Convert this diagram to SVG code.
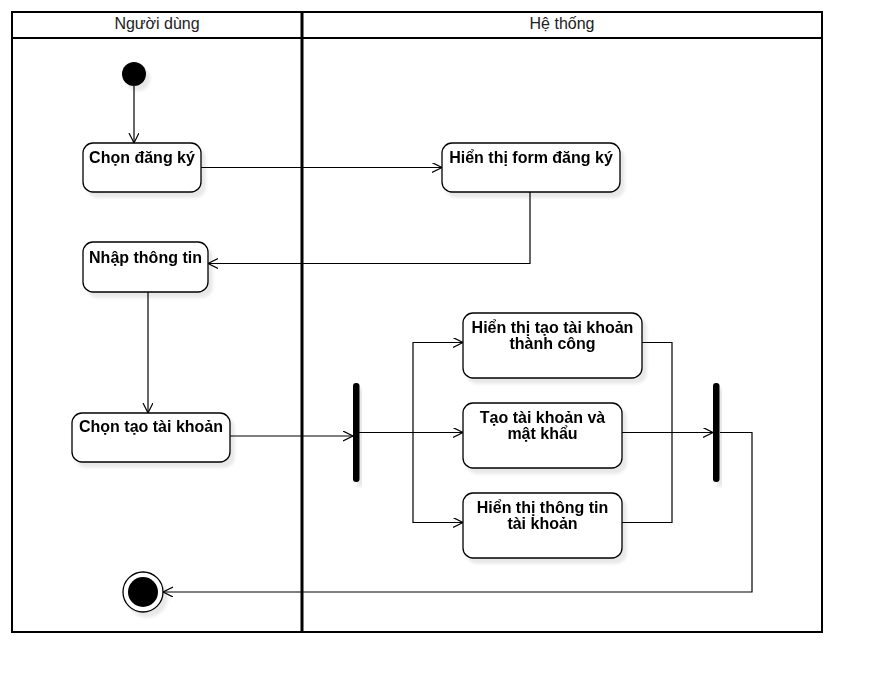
<svg xmlns="http://www.w3.org/2000/svg" width="873" height="683" viewBox="0 0 873 683">
<style>
.lane{fill:none;stroke:#000;stroke-width:2}
.hdr{font-family:"Liberation Sans",Arial,sans-serif;font-size:16px;fill:#222;text-anchor:middle}
.act{fill:#fff;stroke:#000;stroke-width:1.3}
.lbl{font-family:"Liberation Sans",Arial,sans-serif;font-size:16px;font-weight:bold;fill:#000;text-anchor:middle}
.edge{fill:none;stroke:#000;stroke-width:1.2}
.arr{marker-end:url(#open)}
</style>
<defs>
<marker id="open" markerUnits="userSpaceOnUse" markerWidth="12" markerHeight="12" refX="10" refY="5" orient="auto" viewBox="0 0 12 12">
<path d="M0,0 L10,5 L0,10" fill="none" stroke="#000" stroke-width="1.2"/>
</marker>
<filter id="sh" x="-20%" y="-20%" width="150%" height="150%">
<feGaussianBlur in="SourceAlpha" stdDeviation="1.5"/>
<feOffset dx="4" dy="5" result="b"/>
<feFlood flood-color="#000" flood-opacity="0.09"/>
<feComposite in2="b" operator="in"/>
<feMerge><feMergeNode/><feMergeNode in="SourceGraphic"/></feMerge>
</filter>
</defs>
<rect width="873" height="683" fill="#fff"/>
<g id="pool">
<rect class="lane" x="12" y="12" width="810" height="620"/>
<line class="lane" x1="12" y1="38" x2="822" y2="38"/>
<line x1="302" y1="12" x2="302" y2="632" stroke="#000" stroke-width="3"/>
<text class="hdr" x="157" y="29">Người dùng</text>
<text class="hdr" x="562" y="29">Hệ thống</text>
</g>
<g id="connectors">
<path class="edge arr" d="M134 86 V143"/>
<path class="edge arr" d="M201 167.5 H442"/>
<path class="edge arr" d="M530 192 V263.5 H208"/>
<path class="edge arr" d="M148 292 V413"/>
<path class="edge arr" d="M230 436 H353"/>
<path class="edge arr" d="M359 432.5 H463"/>
<path class="edge arr" d="M413 432.5 V342.5 H463"/>
<path class="edge arr" d="M413 432.5 V522.5 H463"/>
<path class="edge" d="M642 342.5 H672 V522.5 H622"/>
<path class="edge arr" d="M622 432.5 H713"/>
<path class="edge arr" d="M720 432.5 H752 V592 H163"/>
</g>
<g id="start" filter="url(#sh)">
<circle cx="134" cy="74" r="12" fill="#000"/>
</g>
<g id="chon-dang-ky" filter="url(#sh)">
<rect class="act" x="83" y="143" width="118" height="49" rx="10"/>
<text class="lbl" x="142" y="163">Chọn đăng ký</text>
</g>
<g id="hien-thi-form" filter="url(#sh)">
<rect class="act" x="442" y="143" width="178" height="49" rx="10"/>
<text class="lbl" x="531" y="163">Hiển thị form đăng ký</text>
</g>
<g id="nhap-thong-tin" filter="url(#sh)">
<rect class="act" x="83" y="242" width="125" height="50" rx="10"/>
<text class="lbl" x="145.5" y="263">Nhập thông tin</text>
</g>
<g id="chon-tao-tai-khoan" filter="url(#sh)">
<rect class="act" x="72" y="413" width="158" height="49" rx="10"/>
<text class="lbl" x="151" y="432">Chọn tạo tài khoản</text>
</g>
<g id="fork" filter="url(#sh)">
<rect x="353" y="383" width="6.5" height="99" rx="3" fill="#000"/>
</g>
<g id="hien-thi-tao-thanh-cong" filter="url(#sh)">
<rect class="act" x="463" y="313" width="179" height="65" rx="10"/>
<text class="lbl" x="552.5" y="333">Hiển thị tạo tài khoản</text>
<text class="lbl" x="552.5" y="349">thành công</text>
</g>
<g id="tao-tai-khoan" filter="url(#sh)">
<rect class="act" x="463" y="403" width="159" height="65" rx="10"/>
<text class="lbl" x="542.5" y="423">Tạo tài khoản và</text>
<text class="lbl" x="542.5" y="439">mật khẩu</text>
</g>
<g id="hien-thi-thong-tin" filter="url(#sh)">
<rect class="act" x="463" y="493" width="159" height="65" rx="10"/>
<text class="lbl" x="542.5" y="513">Hiển thị thông tin</text>
<text class="lbl" x="542.5" y="529">tài khoản</text>
</g>
<g id="join" filter="url(#sh)">
<rect x="713" y="383" width="6.5" height="99" rx="3" fill="#000"/>
</g>
<g id="end" filter="url(#sh)">
<circle cx="143" cy="592" r="20" fill="#fff" stroke="#000" stroke-width="1.3"/>
<circle cx="143" cy="592" r="15" fill="#000"/>
</g>
</svg>
